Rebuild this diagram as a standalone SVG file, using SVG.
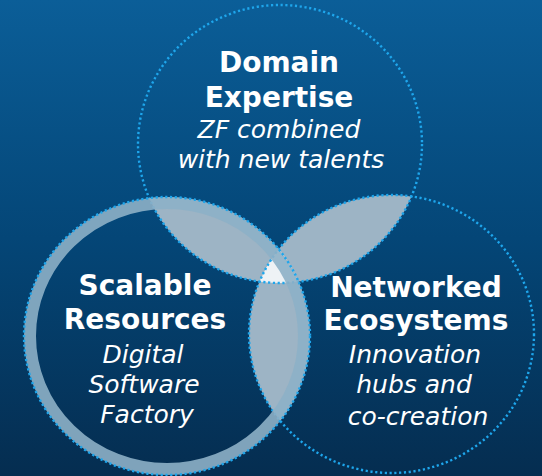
<svg xmlns="http://www.w3.org/2000/svg" width="542" height="476" viewBox="0 0 542 476">
  <defs>
    <linearGradient id="bg" x1="0" y1="0" x2="0" y2="1">
      <stop offset="0" stop-color="#0b5e98"/>
      <stop offset="0.5" stop-color="#044677"/>
      <stop offset="1" stop-color="#052d50"/>
    </linearGradient>
    <clipPath id="clipL"><ellipse cx="167" cy="336" rx="143" ry="139"/></clipPath>
    <clipPath id="clipR"><ellipse cx="391.5" cy="334" rx="142.5" ry="139"/></clipPath>
    <clipPath id="clipT"><ellipse cx="280" cy="144" rx="142" ry="139"/></clipPath>
    <style>
      .lens { fill: #9db4c5; }
      .core { fill: #eef2f5; }
      .dots { fill: none; stroke: #1ea6ec; stroke-width: 2.4; stroke-dasharray: 2.2 2.6; }
      .ring { fill: none; stroke: #8db0c7; stroke-opacity: 0.9; stroke-width: 12; }
      .title { font-family: "DejaVu Sans", Verdana, sans-serif; font-weight: bold; font-size: 28px; fill: #ffffff; text-anchor: middle; }
      .sub { font-family: "DejaVu Sans", Verdana, sans-serif; font-style: italic; font-size: 25px; fill: #ffffff; text-anchor: middle; }
    </style>
  </defs>
  <rect width="542" height="476" fill="url(#bg)"/>
  <g id="overlaps">
    <g clip-path="url(#clipL)"><ellipse class="lens" cx="280" cy="144" rx="142" ry="139"/></g>
    <g clip-path="url(#clipR)"><ellipse class="lens" cx="280" cy="144" rx="142" ry="139"/></g>
    <g clip-path="url(#clipR)"><ellipse class="lens" cx="167" cy="336" rx="143" ry="139"/></g>
    <g clip-path="url(#clipT)"><g clip-path="url(#clipR)"><ellipse class="core" cx="167" cy="336" rx="143" ry="139"/></g></g>
  </g>
  <g id="node-domain">
    <ellipse class="dots" cx="280" cy="144" rx="142" ry="139"/>
    <text class="title" x="279" y="72">Domain</text>
    <text class="title" x="279" y="107">Expertise</text>
    <text class="sub" x="279" y="138">ZF combined</text>
    <text class="sub" x="281" y="168">with new talents</text>
  </g>
  <g id="node-networked">
    <ellipse class="dots" cx="391.5" cy="334" rx="142.5" ry="139"/>
    <text class="title" x="416" y="297">Networked</text>
    <text class="title" x="416" y="330">Ecosystems</text>
    <text class="sub" x="415" y="363">Innovation</text>
    <text class="sub" x="414" y="393">hubs and</text>
    <text class="sub" x="418" y="425">co-creation</text>
  </g>
  <g id="node-scalable">
    <ellipse class="ring" cx="167" cy="336" rx="137" ry="133"/>
    <ellipse class="dots" cx="167" cy="336" rx="143" ry="139"/>
    <text class="title" x="145" y="295">Scalable</text>
    <text class="title" x="145" y="329">Resources</text>
    <text class="sub" x="143" y="363">Digital</text>
    <text class="sub" x="144" y="393">Software</text>
    <text class="sub" x="147" y="423">Factory</text>
  </g>
</svg>
